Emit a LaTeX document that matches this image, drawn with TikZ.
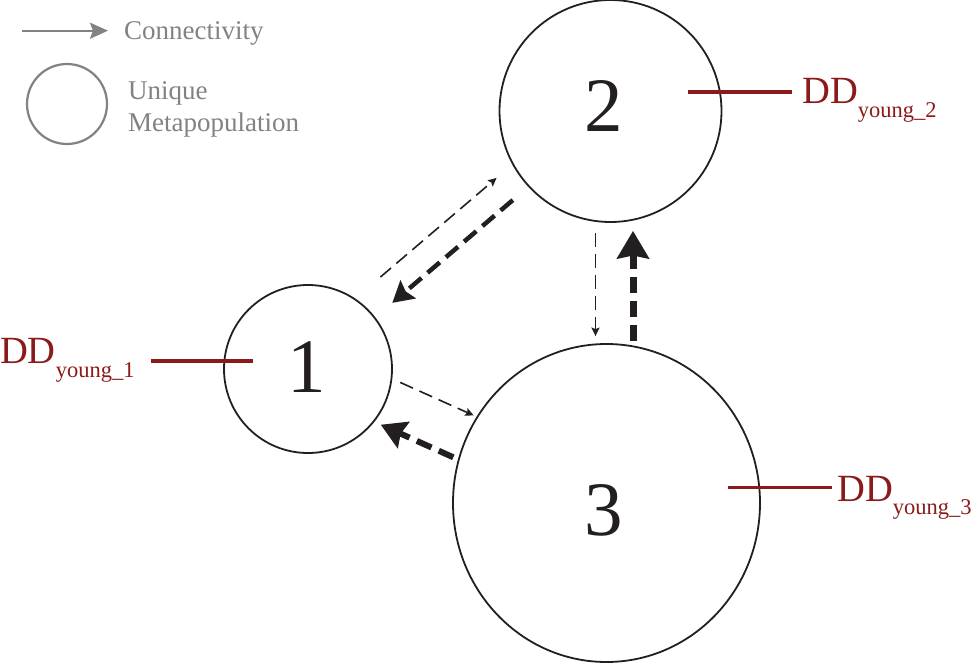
\documentclass[tikz,border=0pt]{standalone}
\usepackage{fontspec}
\setmainfont{Liberation Serif}
\usetikzlibrary{arrows.meta,shapes.geometric}

\definecolor{ink}{RGB}{35,31,32}
\definecolor{ddred}{RGB}{139,26,26}
\definecolor{leggray}{RGB}{128,130,133}

\begin{document}
\begin{tikzpicture}[
        x = 1pt,
        y = -1pt,
        pop/.style = {draw = ink, line width = 1.8pt, inner sep = 0pt},
        num/.style = {text = ink, inner sep = 0pt, font = \fontsize{77}{77}\selectfont},
        ddline/.style = {draw = ddred, line width = 3.5pt},
        ddlabel/.style = {text = ddred, inner sep = 0pt, anchor = base west, font = \fontsize{38.5}{40}\selectfont},
        legtext/.style = {text = leggray, inner sep = 0pt, font = \fontsize{27}{32}\selectfont},
        legflow/.style = {draw = leggray, line width = 2.4pt, -{Stealth[length = 18pt, width = 16pt, inset = 3pt]}},
        thinflow/.style = {draw = ink, line width = 1.6pt, dash pattern = on 14pt off 7pt, -{Stealth[length = 8.5pt, width = 8pt, inset = 1.5pt]}},
        thickflow/.style = {draw = ink, line width = #1, dash pattern = on 16pt off 8pt, -{Stealth[length = 8pt 2.8, width = 8pt 3.4, inset = 3pt]}}
        ]
        \useasboundingbox (0, 0) rectangle (975, 664);

        % legend
        \coordinate (legtail) at (22, 30.7);
        \draw[legflow] (legtail) -- ++(86, 0);
        \node[legtext, anchor = base west] (conn) at (124, 39) {Connectivity};
        \node[pop, draw = leggray, line width = 2.2pt, circle, minimum size = 80pt] (legpop) at (67, 104) {};
        \node[legtext, anchor = north west, align = left] (uniq) at (128, 81.6) {Unique\\Metapopulation};

        % metapopulations
        \node[pop, circle, minimum size = 168pt] (c1) at (308, 369) {};
        \node[pop, circle, minimum size = 222pt] (c2) at (610.5, 111) {};
        \node[pop, ellipse, minimum width = 307pt, minimum height = 318pt] (c3) at (606.5, 503) {};
        \node[num] (n1) at (306.5, 367.4) {1};
        \node[num] (n2) at (604, 106.5) {2};
        \node[num] (n3) at (604, 510) {3};

        % density dependence
        \node[ddlabel] (dd1) at (0, 363) {DD\raisebox{-14pt}{\fontsize{22.5}{23}\selectfont young\_1}};
        \node[ddlabel] (dd2) at (802, 103) {DD\raisebox{-14pt}{\fontsize{22.5}{23}\selectfont young\_2}};
        \node[ddlabel] (dd3) at (837, 501) {DD\raisebox{-13pt}{\fontsize{22.5}{23}\selectfont young\_3}};
        \coordinate (l1) at (253, 361);
        \coordinate (l2) at (688, 92);
        \coordinate (l3) at (728, 487.5);
        \draw[ddline, shorten >= 16.7pt] (l1) -- (l1 -| dd1.east);
        \draw[ddline, shorten >= 10pt] (l2) -- (l2 -| dd2.west);
        \draw[ddline, shorten >= 5pt] (l3) -- (l3 -| dd3.west);

        % connectivity
        \draw[thinflow, shorten <= 29.8pt, shorten >= 18.2pt,
            transform canvas = {shift = {(-14.9, -17.5)}}] (c1) -- (c2);
        \draw[thickflow = 4.5pt, shorten <= 20.3pt, shorten >= 22.1pt,
            transform canvas = {shift = {(2.9, 3.3)}}] (c2) -- (c1);
        \draw[thinflow, shorten <= 10pt, shorten >= 7pt,
            transform canvas = {shift = {(-15, 0)}}] (c2.south) -- (c2.south |- c3.north);
        \draw[thickflow = 7pt, shorten <= 2pt, shorten >= 8pt,
            transform canvas = {shift = {(22.5, 0)}}] (c2.south |- c3.north) -- (c2.south);
        \draw[thinflow, shorten <= 4.8pt, shorten >= 1.7pt,
            transform canvas = {shift = {(10.4, -23.3)}}] (c1) -- (c3);
        \draw[thickflow = 6pt, shorten <= 3.2pt, shorten >= 4.3pt,
            transform canvas = {shift = {(-8.6, 19.2)}}] (c3) -- (c1);
    \end{tikzpicture}
\end{document}
